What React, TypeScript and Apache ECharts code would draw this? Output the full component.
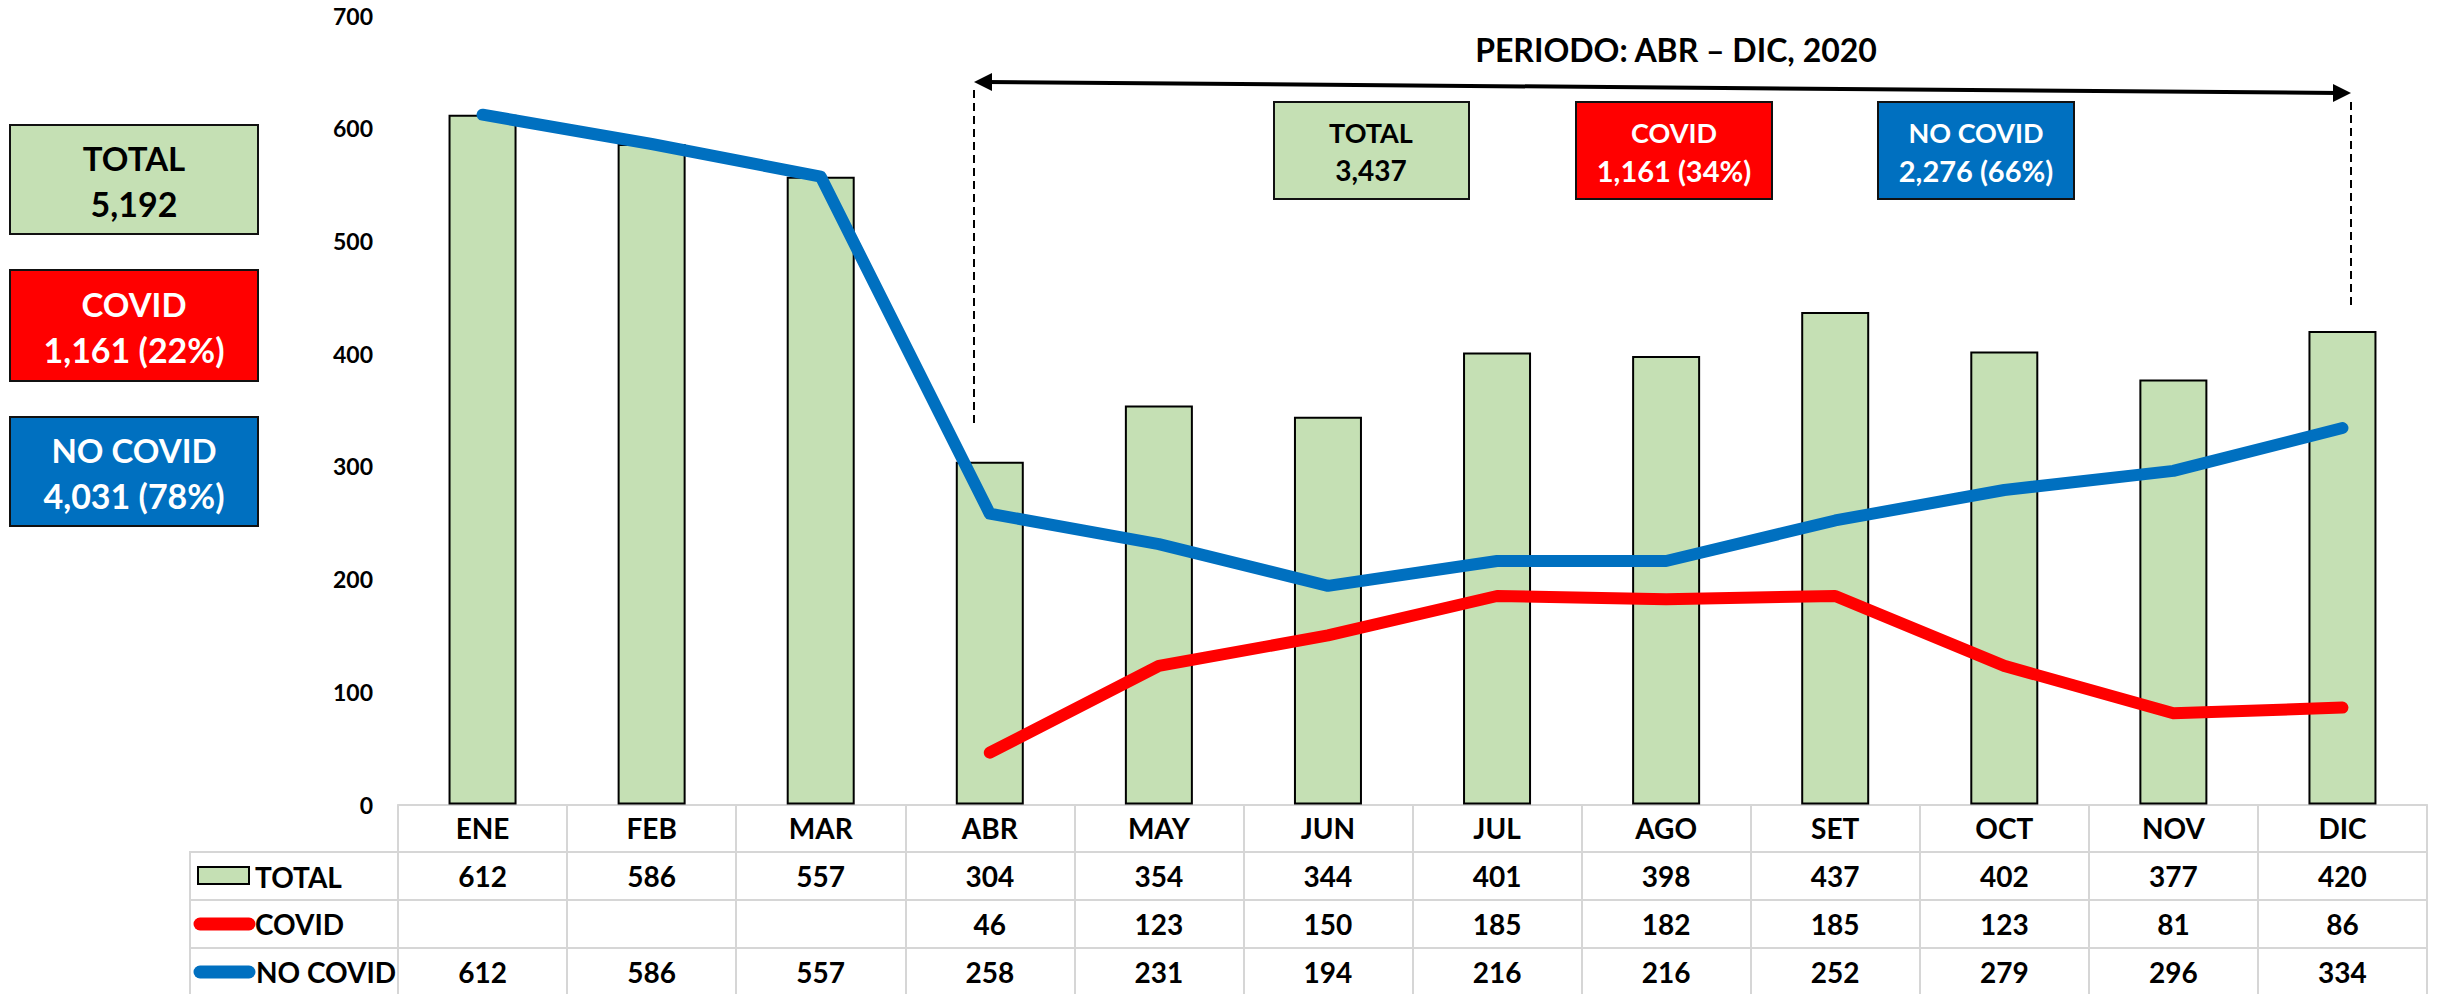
import React, { useEffect, useRef } from 'react';
import * as echarts from 'echarts';

const MONTHS = ['ENE', 'FEB', 'MAR', 'ABR', 'MAY', 'JUN', 'JUL', 'AGO', 'SET', 'OCT', 'NOV', 'DIC'];
const TOTAL = [612, 586, 557, 304, 354, 344, 401, 398, 437, 402, 377, 420];
const COVID: (number | null)[] = [null, null, null, 46, 123, 150, 185, 182, 185, 123, 81, 86];
const NO_COVID = [612, 586, 557, 258, 231, 194, 216, 216, 252, 279, 296, 334];
const SERIES_NAMES = ['TOTAL', 'COVID', 'NO COVID'];
const PERIOD_TITLE = 'PERIODO: ABR \u2013 DIC, 2020';
const PERIOD_START = 3; // ABR index
const Y_MIN = 0;
const Y_MAX = 700;
const Y_STEP = 100;

const FONT = 'Lato, "Open Sans", sans-serif';
const GREEN = '#C5E0B4';
const RED = '#FF0000';
const BLUE = '#0070C0';
const GRID_GREY = '#D6D6D6';

const sum = (a: (number | null)[]) => a.reduce((s: number, v) => s + (v ?? 0), 0);
const fmt = (n: number) => n.toLocaleString('en-US');

export default function App() {
  const ref = useRef<HTMLDivElement>(null);

  useEffect(() => {
    document.body.style.margin = '0';
    const chart = echarts.init(ref.current!, null, { renderer: 'svg', width: 2445, height: 994 });

    const totAll = sum(TOTAL);
    const covAll = sum(COVID);
    const noAll = sum(NO_COVID);
    const totP = sum(TOTAL.slice(PERIOD_START));
    const covP = sum(COVID.slice(PERIOD_START));
    const noP = sum(NO_COVID.slice(PERIOD_START));
    const pct = (a: number, b: number) => Math.round((a / b) * 100) + '%';

    const label = (margin: number) => ({
      interval: 0,
      margin,
      fontSize: 28,
      lineHeight: 28,
      fontWeight: 'bold',
      color: '#000',
      fontFamily: FONT,
    });
    const tableAxis = (data: string[], offset: number, tickLen: number, margin: number) => ({
      type: 'category',
      data,
      position: 'bottom',
      offset,
      boundaryGap: true,
      axisLine: { show: true, lineStyle: { color: GRID_GREY, width: 2 } },
      axisTick: { show: true, length: tickLen, lineStyle: { color: GRID_GREY, width: 2 } },
      axisLabel: label(margin),
      splitLine: { show: false },
    });

    const boxText = (x: number, y: number, text: string, fill: string, size: number) => ({
      type: 'text',
      x,
      y,
      z: 20,
      style: {
        text,
        fill,
        fontSize: size,
        fontWeight: 'bold',
        fontFamily: FONT,
        align: 'center',
        verticalAlign: 'middle',
      },
    });
    const box = (x: number, y: number, w: number, h: number, fill: string) => ({
      type: 'rect',
      z: 10,
      shape: { x, y, width: w, height: h },
      style: { fill, stroke: '#111', lineWidth: 2 },
    });
    const gline = (x1: number, y1: number, x2: number, y2: number, stroke: string, lineWidth: number, extra: any = {}) => ({
      type: 'line',
      z: 5,
      shape: { x1, y1, x2, y2 },
      style: { stroke, lineWidth, ...extra },
    });

    const graphic: any[] = [
      // left summary boxes
      box(10, 125, 248, 109, GREEN),
      boxText(134, 158, SERIES_NAMES[0], '#000', 33),
      boxText(134, 203, fmt(totAll), '#000', 34),
      box(10, 270, 248, 111, RED),
      boxText(134, 304, SERIES_NAMES[1], '#fff', 33),
      boxText(134, 349, `${fmt(covAll)} (${pct(covAll, totAll)})`, '#fff', 34),
      box(10, 417, 248, 109, BLUE),
      boxText(134, 450, SERIES_NAMES[2], '#fff', 33),
      boxText(134, 495, `${fmt(noAll)} (${pct(noAll, totAll)})`, '#fff', 34),

      // period title & arrow
      boxText(1676, 49, PERIOD_TITLE, '#000', 32),
      gline(986, 82, 2339, 93, '#000', 4),
      { type: 'polygon', z: 6, shape: { points: [[974, 82], [992, 73], [992, 91]] }, style: { fill: '#000' } },
      { type: 'polygon', z: 6, shape: { points: [[2351, 93], [2333, 84], [2333, 102]] }, style: { fill: '#000' } },
      gline(974, 90, 974, 427, '#000', 2, { lineDash: [8, 5] }),
      gline(2351, 102, 2351, 308, '#000', 2, { lineDash: [8, 5] }),

      // period boxes
      box(1274, 102, 195, 97, GREEN),
      boxText(1371, 132, SERIES_NAMES[0], '#000', 27),
      boxText(1371, 170, fmt(totP), '#000', 28),
      box(1576, 102, 196, 97, RED),
      boxText(1674, 132, SERIES_NAMES[1], '#fff', 27),
      boxText(1674, 170, `${fmt(covP)} (${pct(covP, totP)})`, '#fff', 29),
      box(1878, 102, 196, 97, BLUE),
      boxText(1976, 132, SERIES_NAMES[2], '#fff', 27),
      boxText(1976, 170, `${fmt(noP)} (${pct(noP, totP)})`, '#fff', 29),

      // data table legend column
      gline(190, 852, 398, 852, GRID_GREY, 2),
      gline(190, 900, 398, 900, GRID_GREY, 2),
      gline(190, 948, 398, 948, GRID_GREY, 2),
      gline(190, 851, 190, 994, GRID_GREY, 2),
      { type: 'rect', z: 6, shape: { x: 198, y: 867, width: 51, height: 17 }, style: { fill: GREEN, stroke: '#000', lineWidth: 2 } },
      gline(200, 924, 249, 924, RED, 13, { lineCap: 'round' }),
      gline(200, 972, 249, 972, BLUE, 13, { lineCap: 'round' }),
      {
        type: 'text', x: 255, y: 877, z: 6,
        style: { text: SERIES_NAMES[0], fill: '#000', fontSize: 28, fontWeight: 'bold', fontFamily: FONT, align: 'left', verticalAlign: 'middle' },
      },
      {
        type: 'text', x: 255, y: 924, z: 6,
        style: { text: SERIES_NAMES[1], fill: '#000', fontSize: 28, fontWeight: 'bold', fontFamily: FONT, align: 'left', verticalAlign: 'middle' },
      },
      {
        type: 'text', x: 256, y: 972, z: 6,
        style: { text: SERIES_NAMES[2], fill: '#000', fontSize: 28, fontWeight: 'bold', fontFamily: FONT, align: 'left', verticalAlign: 'middle' },
      },
    ];

    const option: any = {
      animation: false,
      backgroundColor: '#fff',
      grid: { left: 398, right: 18, top: 15.5, bottom: 189.5, containLabel: false, outerBoundsMode: 'none' },
      xAxis: [
        tableAxis(MONTHS, 0, 47, 9),
        tableAxis(TOTAL.map(String), 47, 48, 10),
        tableAxis(COVID.map((v) => (v == null ? '' : String(v))), 95, 48, 10),
        tableAxis(NO_COVID.map(String), 143, 48, 10),
      ],
      yAxis: {
        type: 'value',
        min: Y_MIN,
        max: Y_MAX,
        interval: Y_STEP,
        axisLine: { show: false },
        axisTick: { show: false },
        splitLine: { show: false },
        axisLabel: { margin: 25, fontSize: 23, fontWeight: 'bold', color: '#000', fontFamily: FONT },
      },
      series: [
        {
          name: SERIES_NAMES[0],
          type: 'bar',
          xAxisIndex: 0,
          data: TOTAL,
          barWidth: 68,
          itemStyle: { color: GREEN, borderColor: '#000', borderWidth: 2 },
          z: 2,
        },
        {
          name: SERIES_NAMES[1],
          type: 'line',
          xAxisIndex: 0,
          data: COVID,
          showSymbol: false,
          symbol: 'none',
          connectNulls: false,
          lineStyle: { color: RED, width: 12, cap: 'round', join: 'round' },
          itemStyle: { color: RED },
          z: 3,
        },
        {
          name: SERIES_NAMES[2],
          type: 'line',
          xAxisIndex: 0,
          data: NO_COVID,
          showSymbol: false,
          symbol: 'none',
          lineStyle: { color: BLUE, width: 12, cap: 'round', join: 'round' },
          itemStyle: { color: BLUE },
          z: 4,
        },
      ],
      graphic,
    };

    chart.setOption(option);
    return () => chart.dispose();
  }, []);

  return <div ref={ref} style={{ width: 2445, height: 994, background: '#fff' }} />;
}
